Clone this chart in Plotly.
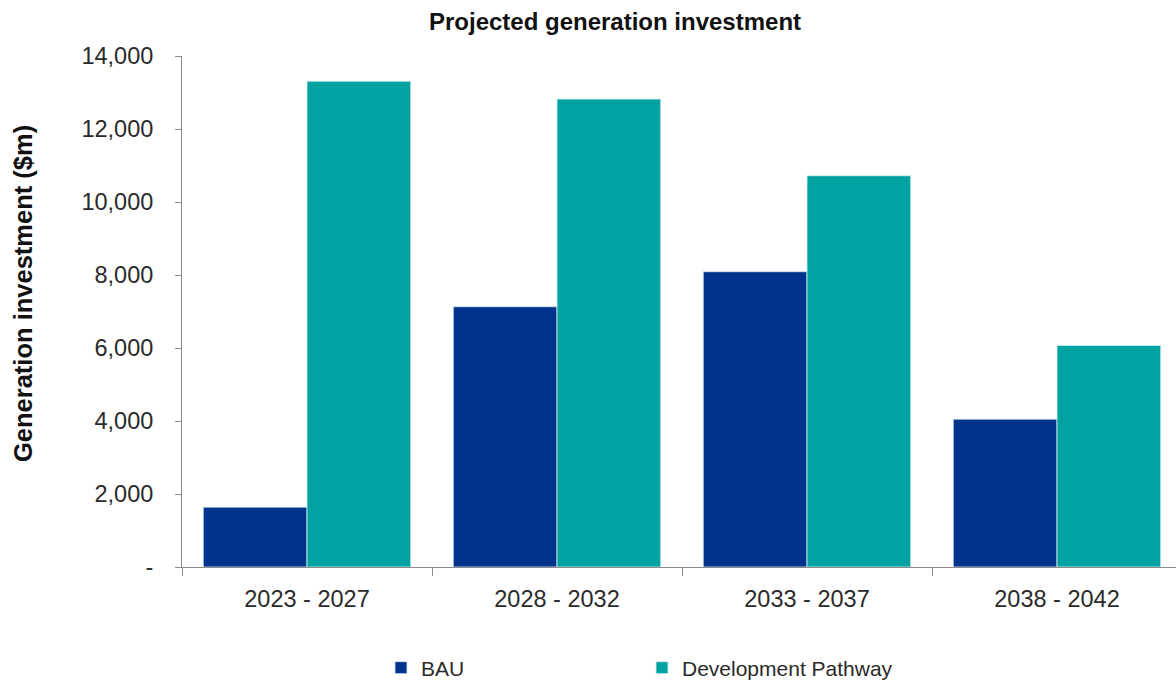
import plotly.graph_objects as go

periods = ["2023 - 2027", "2028 - 2032", "2033 - 2037", "2038 - 2042"]
bau = [1640, 7130, 8090, 4050]
development_pathway = [13310, 12820, 10720, 6070]

y_tick_values = [0, 2000, 4000, 6000, 8000, 10000, 12000, 14000]
y_tick_labels = ["-", "2,000", "4,000", "6,000", "8,000", "10,000", "12,000", "14,000"]

FONT = "Liberation Sans, Arial, sans-serif"
TEXT = "#2a2a2a"
AXIS = "#8c8c8c"

fig = go.Figure()
fig.add_trace(go.Bar(
    name="BAU", x=periods, y=bau,
    marker=dict(color="#00338D", line=dict(color="rgba(220,230,240,0.8)", width=1)),
))
fig.add_trace(go.Bar(
    name="Development Pathway", x=periods, y=development_pathway,
    marker=dict(color="#00A3A1", line=dict(color="rgba(220,240,240,0.8)", width=1)),
))

fig.update_layout(
    width=1176, height=684,
    margin=dict(l=182, r=0, t=55.5, b=116.5, autoexpand=False),
    paper_bgcolor="white", plot_bgcolor="white",
    barmode="group", bargap=0.17, bargroupgap=0,
    font=dict(family=FONT, color=TEXT, size=22),
    title=dict(
        text="<b>Projected generation investment</b>",
        x=615 / 1176, xanchor="center", xref="container",
        y=1 - 22 / 684, yanchor="middle", yref="container",
        font=dict(family=FONT, size=24, color="#111111"),
    ),
    showlegend=True,
    legend=dict(
        orientation="h", xref="container", x=381 / 1176, xanchor="left",
        yref="container", y=1 - 668 / 684, yanchor="middle",
        entrywidth=216, entrywidthmode="pixels",
        font=dict(family=FONT, size=21, color=TEXT),
        traceorder="normal",
    ),
    xaxis=dict(
        type="category", range=[-0.5, 3.5 - 6 / 250], automargin=False,
        showline=True, linecolor=AXIS, linewidth=1,
        ticks="outside", tickson="boundaries", ticklen=8, tickcolor=AXIS,
        ticklabelstandoff=11,
        tickfont=dict(family=FONT, size=23.5, color=TEXT),
        showgrid=False, zeroline=False,
    ),
    yaxis=dict(
        range=[0, 14000], tickvals=y_tick_values, ticktext=y_tick_labels,
        automargin=False,
        showline=True, linecolor=AXIS, linewidth=1,
        ticks="outside", ticklen=6, tickcolor=AXIS,
        ticklabelstandoff=17,
        tickfont=dict(family=FONT, size=23.5, color=TEXT),
        showgrid=False, zeroline=False,
    ),
    annotations=[dict(
        text="<b>Generation investment ($m)</b>",
        xref="paper", yref="paper",
        x=(23 - 182) / 994, y=(567.5 - 294) / 512,
        xanchor="center", yanchor="middle", textangle=-90, showarrow=False,
        font=dict(family=FONT, size=25.5, color="#111111"),
    )],
)

fig.write_html("out.html")
